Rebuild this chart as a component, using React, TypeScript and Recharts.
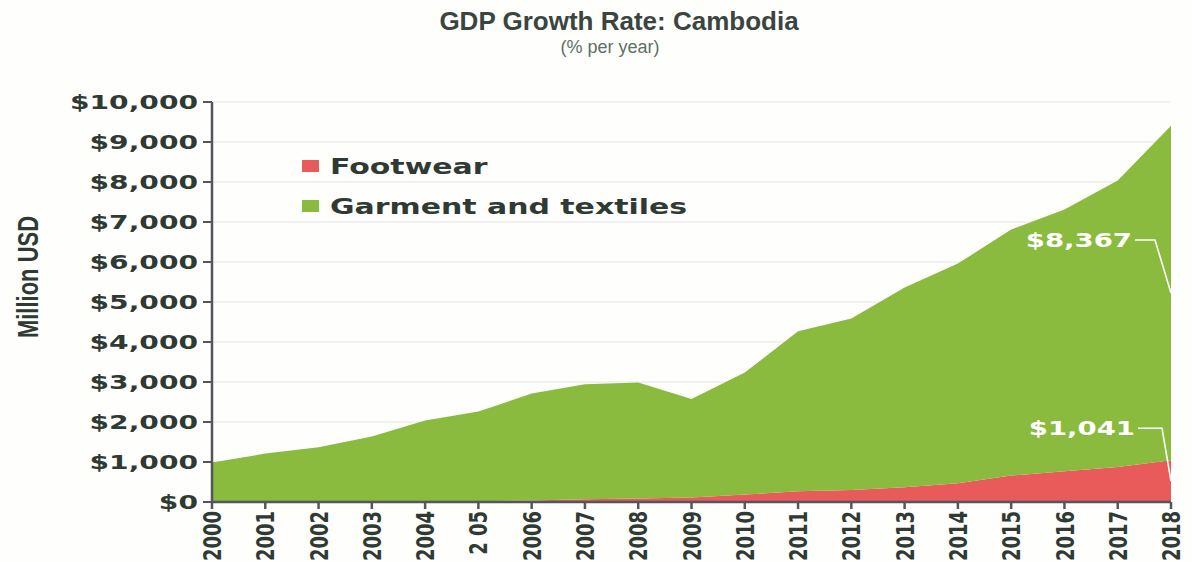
import React from "react";
import {
  AreaChart,
  Area,
  XAxis,
  YAxis,
  CartesianGrid,
  Legend,
  ReferenceDot,
} from "recharts";

const YEARS = [
  "2000", "2001", "2002", "2003", "2004", "2005", "2006", "2007", "2008", "2009",
  "2010", "2011", "2012", "2013", "2014", "2015", "2016", "2017", "2018",
];
// tick text as printed in the source (2005 is shown as "2 05")
const YEAR_LABELS = [
  "2000", "2001", "2002", "2003", "2004", "2 05", "2006", "2007", "2008", "2009",
  "2010", "2011", "2012", "2013", "2014", "2015", "2016", "2017", "2018",
];
// million USD
const FOOTWEAR = [5, 5, 5, 5, 10, 20, 40, 70, 90, 110, 185, 267, 300, 367, 467, 660, 767, 875, 1041];
const GARMENT = [980, 1205, 1363, 1630, 2025, 2240, 2670, 2873, 2895, 2465, 3050, 4000, 4285, 4993, 5493, 6150, 6543, 7165, 8367];
const Y_TICKS = [0, 1000, 2000, 3000, 4000, 5000, 6000, 7000, 8000, 9000, 10000];

const GREEN = "#8aba3e";
const RED = "#e95b5b";
const INK = "#2e3a33";
const AXIS = "#55555f";
const FONT = "'DejaVu Sans', Verdana, sans-serif";
const SANS = "'Liberation Sans', Arial, sans-serif";
const STRETCH = 1.4;

const data = YEARS.map((year, i) => ({
  year,
  footwear: FOOTWEAR[i],
  garment: GARMENT[i],
}));

const fmt = (v: number) => "$" + v.toLocaleString("en-US");

// eslint-disable-next-line @typescript-eslint/no-explicit-any
function YTick(props: any) {
  const { x, y, payload } = props;
  return (
    <text
      transform={`translate(${x},${y}) scale(1.48,1)`}
      textAnchor="end"
      dy="0.36em"
      fontFamily={FONT}
      fontWeight="bold"
      fontSize={19}
      fill={INK}
    >
      {fmt(payload.value)}
    </text>
  );
}

// eslint-disable-next-line @typescript-eslint/no-explicit-any
function XTick(props: any) {
  const { x, y, payload } = props;
  const i = YEARS.indexOf(String(payload.value));
  return (
    <text
      transform={`translate(${x},${y}) scale(${STRETCH},1) rotate(-90)`}
      textAnchor="end"
      dy="0.36em"
      fontFamily={FONT}
      fontWeight="bold"
      fontSize={18}
      fill={INK}
    >
      {i >= 0 ? YEAR_LABELS[i] : payload.value}
    </text>
  );
}

function callout(text: string, knee: number, textGap: number) {
  // eslint-disable-next-line @typescript-eslint/no-explicit-any
  return (props: any) => {
    const { cx, cy } = props;
    if (cx === undefined || cy === undefined) return null;
    const ly = cy - 53;
    return (
      <g>
        <polyline
          points={`${cx - textGap + 3},${ly} ${cx - knee},${ly} ${cx},${cy}`}
          fill="none"
          stroke="#fff"
          strokeWidth={1.6}
        />
        <text
          transform={`translate(${cx - textGap},${ly}) scale(1.45,1)`}
          textAnchor="end"
          dy="0.36em"
          fontFamily={FONT}
          fontWeight="bold"
          fontSize={19}
          fill="#fff"
        >
          {text}
        </text>
      </g>
    );
  };
}

// eslint-disable-next-line @typescript-eslint/no-explicit-any
function LegendContent(props: any) {
  const items = [...(props.payload || [])].sort((a, b) =>
    a.dataKey === "footwear" ? -1 : b.dataKey === "footwear" ? 1 : 0
  );
  return (
    <div style={{ width: 0, height: 0, overflow: "visible" }}>
      {items.map((it) => (
        <div
          key={it.value}
          style={{ display: "flex", alignItems: "center", height: 40, width: 420 }}
        >
          <span
            style={{
              display: "inline-block",
              width: 17,
              height: 12,
              background: it.color,
              marginRight: 11,
            }}
          />
          <span
            style={{
              display: "inline-block",
              fontFamily: FONT,
              fontWeight: "bold",
              fontSize: 22,
              color: INK,
              whiteSpace: "nowrap",
              transform: "scaleX(1.36)",
              transformOrigin: "left center",
            }}
          >
            {it.value}
          </span>
        </div>
      ))}
    </div>
  );
}

const last = YEARS.length - 1;

export default function App() {
  return (
    <div
      style={{
        position: "absolute",
        left: 0,
        top: 0,
        width: 1192,
        height: 562,
        background: "#fefefd",
        overflow: "hidden",
      }}
    >
      <div
        style={{
          position: "absolute",
          left: 0,
          width: 1238,
          top: 6,
          textAlign: "center",
          fontFamily: SANS,
          fontWeight: "bold",
          fontSize: 26,
          color: "#3a4540",
          whiteSpace: "nowrap",
        }}
      >
        GDP Growth Rate: Cambodia
      </div>
      <div
        style={{
          position: "absolute",
          left: 0,
          width: 1220,
          top: 37,
          textAlign: "center",
          fontFamily: SANS,
          fontSize: 18,
          color: "#5f6f66",
          whiteSpace: "nowrap",
        }}
      >
        (% per year)
      </div>
      <div style={{ position: "absolute", left: 0, top: 0 }}>
        <AreaChart
          width={1192}
          height={562}
          data={data}
          margin={{ top: 102, right: 21, bottom: 0, left: 0 }}
        >
          <CartesianGrid
            horizontal
            vertical={false}
            stroke="#ececec"
            strokeWidth={1.5}
          />
          <XAxis
            dataKey="year"
            interval={0}
            height={60}
            tickSize={7}
            tickMargin={2}
            axisLine={{ stroke: AXIS, strokeWidth: 2.5 }}
            tickLine={{ stroke: AXIS, strokeWidth: 2.5 }}
            tick={XTick}
          />
          <YAxis
            width={212}
            domain={[0, 10000]}
            ticks={Y_TICKS}
            interval={0}
            tickSize={9}
            tickMargin={5}
            axisLine={{ stroke: AXIS, strokeWidth: 2.5 }}
            tickLine={{ stroke: AXIS, strokeWidth: 2 }}
            tick={YTick}
            label={{
              // eslint-disable-next-line @typescript-eslint/no-explicit-any
              content: (p: any) => {
                const vb = p.viewBox || { x: 0, y: 102 };
                return (
                  <text
                    transform={`translate(${vb.x + 28},${vb.y + 175}) scale(1.3,1) rotate(-90)`}
                    textAnchor="middle"
                    dy="0.36em"
                    fontFamily={SANS}
                    fontWeight="bold"
                    fontSize={22}
                    fill={INK}
                  >
                    Million USD
                  </text>
                );
              },
            }}
          />
          <Legend
            layout="vertical"
            align="left"
            verticalAlign="top"
            content={LegendContent}
            wrapperStyle={{ left: 302, top: 146, width: 0, height: 0 }}
          />
          <Area
            type="linear"
            dataKey="footwear"
            name="Footwear"
            stackId="1"
            stroke="none"
            fill={RED}
            fillOpacity={1}
            isAnimationActive={false}
          />
          <Area
            type="linear"
            dataKey="garment"
            name="Garment and textiles"
            stackId="1"
            stroke="none"
            fill={GREEN}
            fillOpacity={1}
            isAnimationActive={false}
          />
          <ReferenceDot
            x={YEARS[last]}
            y={FOOTWEAR[last] + GARMENT[last] / 2}
            shape={callout(fmt(GARMENT[last]), 16, 39)}
          />
          <ReferenceDot
            x={YEARS[last]}
            y={FOOTWEAR[last] / 2}
            shape={callout(fmt(FOOTWEAR[last]), 9, 36)}
          />
        </AreaChart>
      </div>
    </div>
  );
}
